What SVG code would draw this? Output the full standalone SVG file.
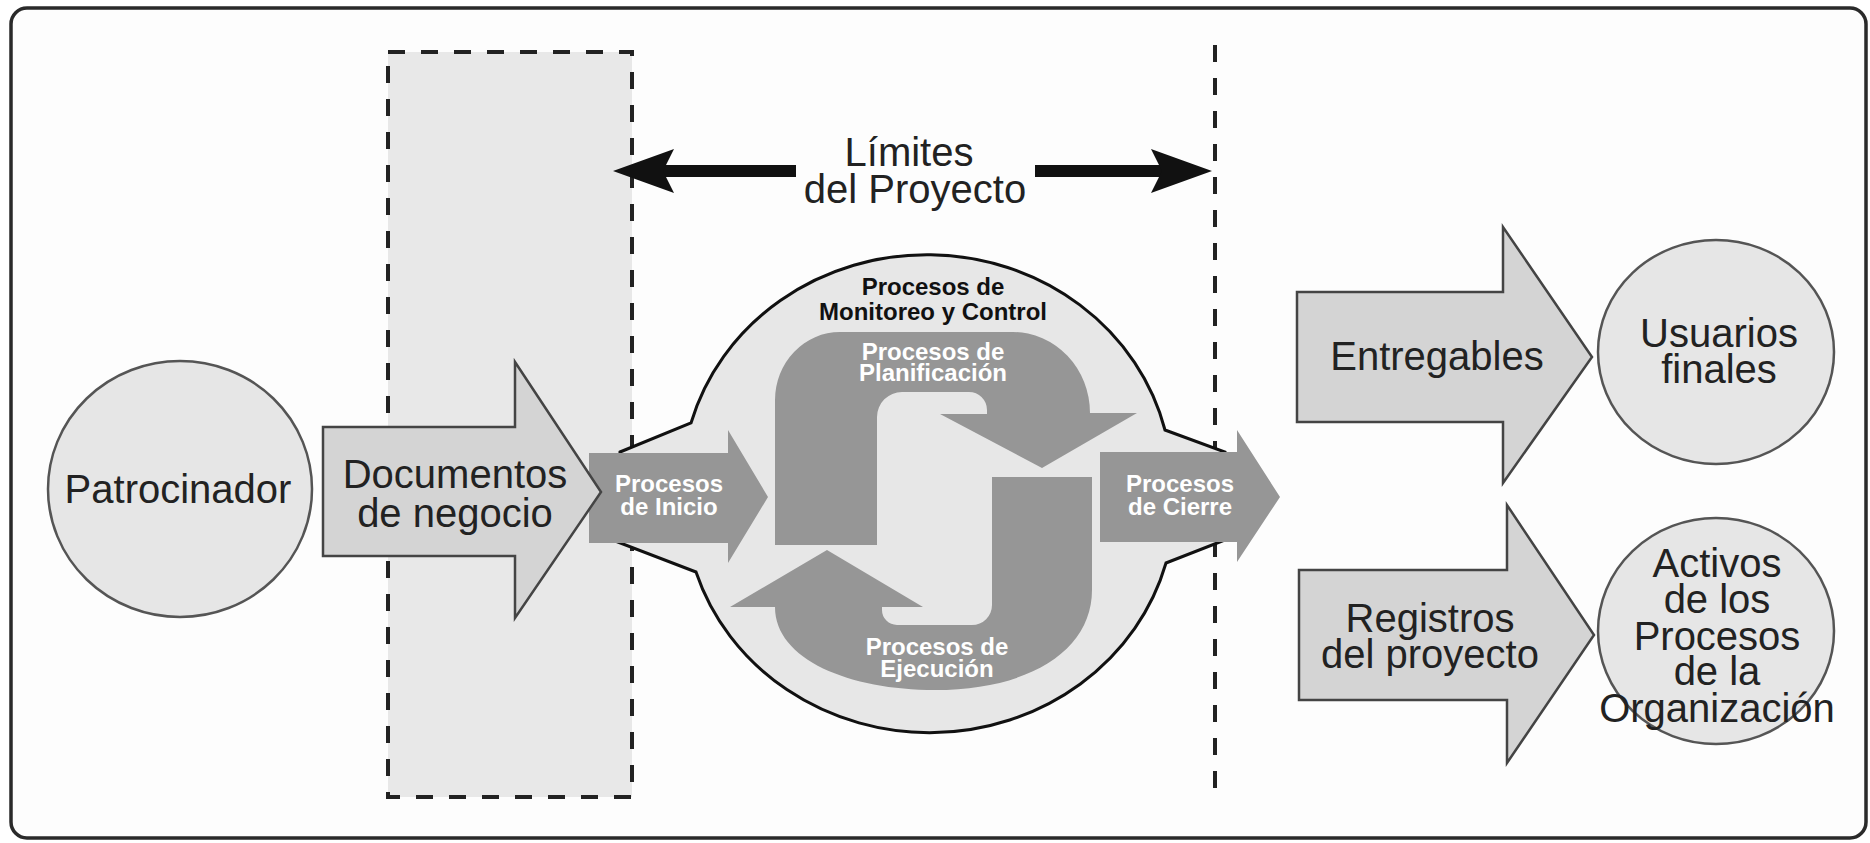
<svg xmlns="http://www.w3.org/2000/svg" width="1870" height="843" viewBox="0 0 1870 843">
<defs>
<style>
.lbl{font-family:"Liberation Sans",Arial,sans-serif;font-size:40px;fill:#222;text-anchor:middle}
.proc{font-family:"Liberation Sans",Arial,sans-serif;font-size:24px;font-weight:bold;fill:#fff;text-anchor:middle}
.procb{font-family:"Liberation Sans",Arial,sans-serif;font-size:24px;font-weight:bold;fill:#111;text-anchor:middle}
.circ{fill:#e6e6e6;stroke:#555;stroke-width:2.5}
.bigarrow{fill:#d4d4d4;stroke:#444;stroke-width:2.5;stroke-linejoin:miter}
.parrow{fill:#969696;stroke:none}
.dash{fill:none;stroke:#222;stroke-width:4;stroke-dasharray:17 16}
</style>
</defs>
<rect x="0" y="0" width="1870" height="843" fill="#ffffff"/>
<rect id="frame" x="11" y="8" width="1855" height="830" rx="16" fill="#fdfdfd" stroke="#2a2a2a" stroke-width="3.5"/>

<g id="boundaries">
<rect x="388" y="52" width="244" height="745" fill="#e8e8e8" stroke="none"/>
<rect class="dash" x="388" y="52" width="244" height="745"/>
<line class="dash" x1="1215" y1="45" x2="1215" y2="798" stroke-width="3.5"/>
</g>

<g id="monitoreo">
<path d="M620,452 L691,423 A245,230 0 0 1 1165,430 L1225,452 L1225,540 L1166,563 A245,230 0 0 1 696,572 L615,541 Z" fill="#e7e7e7" stroke="#111" stroke-width="3"/>
<text class="procb" x="933" y="295">Procesos de</text>
<text class="procb" x="933" y="320">Monitoreo y Control</text>
</g>

<g id="inicio">
<path class="parrow" d="M589,453 H728 V430 L768,497 L728,563 V543 H589 Z"/>
<text class="proc" x="669" y="492">Procesos</text>
<text class="proc" x="669" y="515">de Inicio</text>
</g>

<g id="cierre">
<path class="parrow" d="M1100,452 H1237 V430 L1280,497 L1237,562 V542 H1100 Z"/>
<text class="proc" x="1180" y="492">Procesos</text>
<text class="proc" x="1180" y="515">de Cierre</text>
</g>

<g id="planificacion">
<path class="parrow" d="M775,545 V400 A65,68 0 0 1 840,332 H1013 A77,81 0 0 1 1090,413 H1137 L1042,468 L940,414 H987 V410 A18,18 0 0 0 969,392 H902 A25,25 0 0 0 877,417 V545 Z"/>
<text class="proc" x="933" y="360">Procesos de</text>
<text class="proc" x="933" y="381">Planificación</text>
</g>

<g id="ejecucion">
<path class="parrow" d="M1092,477 V590 C1092,650 1030,690 935,690 C850,690 775,660 775,607 H730 L827,550 L923,607 H882 V610 A15,15 0 0 0 897,625 H972 A20,20 0 0 0 992,605 V477 Z"/>
<text class="proc" x="937" y="655">Procesos de</text>
<text class="proc" x="937" y="677">Ejecución</text>
</g>

<g id="patrocinador">
<ellipse class="circ" cx="180" cy="489" rx="132" ry="128"/>
<text class="lbl" x="178" y="503">Patrocinador</text>
</g>

<g id="documentos">
<path class="bigarrow" d="M323,427 H515 V362 L601,492 L515,618 V556 H323 Z"/>
<text class="lbl" x="455" y="488">Documentos</text>
<text class="lbl" x="455" y="527">de negocio</text>
</g>

<g id="entregables">
<path class="bigarrow" d="M1297,292 H1503 V227 L1592,357 L1503,483 V422 H1297 Z"/>
<text class="lbl" x="1437" y="370">Entregables</text>
</g>

<g id="usuarios">
<ellipse class="circ" cx="1716" cy="352" rx="118" ry="112"/>
<text class="lbl" x="1719" y="347">Usuarios</text>
<text class="lbl" x="1719" y="383">finales</text>
</g>

<g id="registros">
<path class="bigarrow" d="M1299,570 H1507 V505 L1594,635 L1507,763 V700 H1299 Z"/>
<text class="lbl" x="1430" y="632">Registros</text>
<text class="lbl" x="1430" y="668">del proyecto</text>
</g>

<g id="activos">
<ellipse class="circ" cx="1716" cy="631" rx="118" ry="113"/>
<text class="lbl" x="1717" y="577">Activos</text>
<text class="lbl" x="1717" y="613">de los</text>
<text class="lbl" x="1717" y="650">Procesos</text>
<text class="lbl" x="1717" y="685">de la</text>
<text class="lbl" x="1717" y="722">Organización</text>
</g>

<g id="connectors">
<line x1="662" y1="171" x2="796" y2="171" stroke="#111" stroke-width="12"/>
<path d="M613,171 L674,149 L663,171 L674,193 Z" fill="#111"/>
<line x1="1035" y1="171" x2="1162" y2="171" stroke="#111" stroke-width="12"/>
<path d="M1212,171 L1151,149 L1162,171 L1151,193 Z" fill="#111"/>
</g>

<g id="limites">
<text class="lbl" x="909" y="166">Límites</text>
<text class="lbl" x="915" y="203">del Proyecto</text>
</g>
</svg>
